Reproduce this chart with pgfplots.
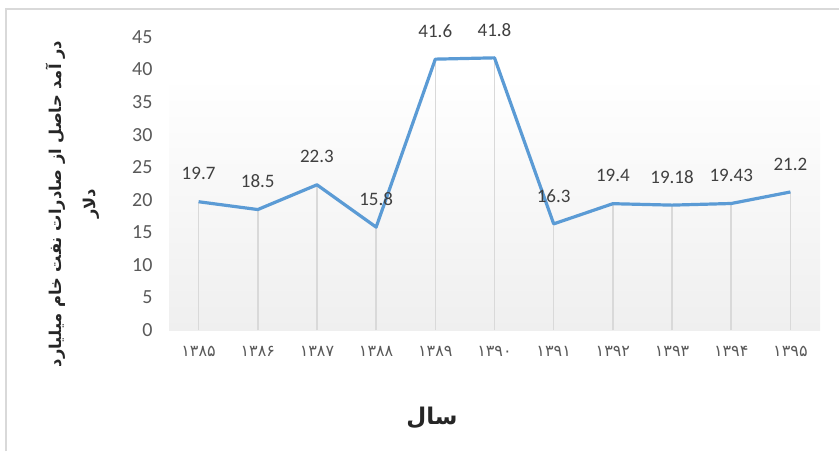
\documentclass[border=0pt]{standalone}
\usepackage{fontspec}
\setmainfont{Carlito}
\newfontfamily\arabicfont[Script=Arabic]{DejaVu Sans}
\TeXXeTstate=1
\usepackage{pgfplots}
\pgfplotsset{compat=1.18}
\definecolor{linecol}{HTML}{5B9BD5}
\definecolor{tickcol}{HTML}{595959}
\definecolor{labcol}{HTML}{404040}
\definecolor{gridcol}{HTML}{D9D9D9}
\definecolor{bgcol}{HTML}{EFEFEF}
\begin{document}
\begin{tikzpicture}[x=1pt,y=1pt]
\path[use as bounding box] (0,0) rectangle (839,-451);
\draw[gridcol, line width=1.5pt] (6,-451) -- (6,-9) -- (839,-9);
\begin{axis}[
    at={(169pt,-330pt)}, anchor=south west,
    scale only axis, width=651pt, height=293pt,
    xmin=-0.5, xmax=10.5, ymin=0, ymax=45,
    axis lines*=left,
    y axis line style={draw=none},
    x axis line style={gridcol, line width=1.5pt},
    major tick length=0pt,
    ytick={0,5,...,45},
    xtick={0,...,10},
    xticklabels={۱۳۸۵,۱۳۸۶,۱۳۸۷,۱۳۸۸,۱۳۸۹,۱۳۹۰,۱۳۹۱,۱۳۹۲,۱۳۹۳,۱۳۹۴,۱۳۹۵},
    /pgf/number format/assume math mode=true,
    yticklabel style={font=\fontsize{20}{20}\selectfont, text=tickcol, xshift=-13pt},
    xticklabel style={font=\arabicfont\fontsize{16}{16}\selectfont, text=tickcol, yshift=-13pt},
    clip=false,
]
\fill[top color=white, bottom color=bgcol, draw=none] (axis cs:-0.5,0) rectangle (axis cs:10.5,38.9);
\addplot[ycomb, gridcol, line width=1.5pt, forget plot] coordinates {
    (0,19.7) (1,18.5) (2,22.3) (3,15.8) (4,41.6) (5,41.8)
    (6,16.3) (7,19.4) (8,19.18) (9,19.43) (10,21.2)
};
\addplot[linecol, line width=3.2pt, line join=round,
    nodes near coords,
    nodes near coords style={anchor=center, yshift=28pt, text=labcol,
        font=\fontsize{19}{19}\selectfont},
] coordinates {
    (0,19.7) (1,18.5) (2,22.3) (3,15.8) (4,41.6) (5,41.8)
    (6,16.3) (7,19.4) (8,19.18) (9,19.43) (10,21.2)
};
\end{axis}
\node[rotate=90, align=center, text=black!85,
    font=\arabicfont\bfseries\fontsize{16.3}{34}\selectfont] at (73,-204)
    {\beginR در آمد حاصل از صادرات نفت خام میلیارد\endR\\\beginR دلار\endR};
\node[text=black!85, font=\arabicfont\bfseries\fontsize{23}{23}\selectfont] at (432,-418)
    {\beginR سال\endR};
\end{tikzpicture}
\end{document}
